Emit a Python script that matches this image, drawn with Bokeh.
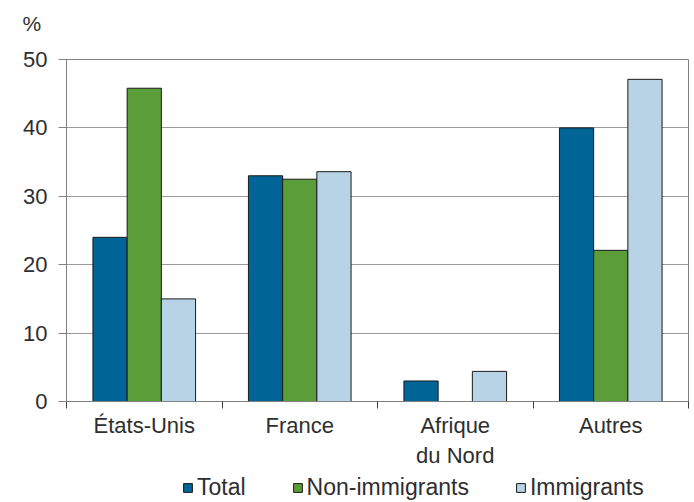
from bokeh.plotting import figure
from bokeh.layouts import column
from bokeh.models import (FixedTicker, Range1d, Legend, LegendItem, ColumnDataSource)
from bokeh.transform import dodge
from bokeh.embed import file_html
from bokeh.resources import INLINE

categories = ["États-Unis", "France", "Afrique\ndu Nord", "Autres"]
total = [24.0, 33.0, 3.0, 40.0]
non_immigrants = [45.8, 32.5, float("nan"), 22.1]
immigrants = [15.0, 33.6, 4.4, 47.1]
series_names = ["Total", "Non-immigrants", "Immigrants"]
series_keys = ["total", "non", "imm"]
colors = ["#006496", "#5b9e39", "#b8d2e6"]
y_ticks = [0, 10, 20, 30, 40, 50]
unit_label = "%"

FONT = "Liberation Sans"
TXT = "#2e2e2e"
GRID = "#9a9a9a"
EDGE = "#1a1a1a"

xc = [i + 0.5 for i in range(len(categories))]
src = ColumnDataSource(dict(x=xc, total=total, non=non_immigrants, imm=immigrants))

# ---- top strip holding the unit label ----
tp = figure(width=694, height=46, output_backend="svg", toolbar_location=None,
            x_axis_type=None, y_axis_type=None, x_range=Range1d(0, 1), y_range=Range1d(0, 1),
            min_border=0, outline_line_color=None)
tp.grid.visible = False
tp.title.text = unit_label
tp.title.align = "left"
tp.title.offset = -44
tp.title.text_font = FONT
tp.title.text_font_size = "21px"
tp.title.text_font_style = "normal"
tp.title.text_color = TXT
tp.title.standoff = 18

# ---- main chart ----
p = figure(width=694, height=424, output_backend="svg", toolbar_location=None,
           x_range=Range1d(0, len(categories)), y_range=Range1d(0, 50),
           min_border_left=66, min_border_right=6, min_border_top=13, min_border_bottom=67)
p.background_fill_color = "white"
p.border_fill_color = "white"
p.outline_line_color = "#808080"
p.outline_line_width = 1

bw = 0.22
for key, off, col in zip(series_keys, [-bw, 0.0, bw], colors):
    p.vbar(x=dodge("x", off, range=p.x_range), top=key, bottom=0, width=bw, source=src,
           fill_color=col, line_color=EDGE, line_width=1)

p.xgrid.visible = False
p.ygrid.grid_line_color = GRID
p.ygrid.grid_line_width = 1
p.ygrid.ticker = FixedTicker(ticks=y_ticks)

ya = p.yaxis[0]
ya.ticker = FixedTicker(ticks=y_ticks)
ya.axis_line_color = "#808080"
ya.major_tick_line_color = "#808080"
ya.major_tick_out = 8
ya.major_tick_in = 0
ya.minor_tick_line_color = None
ya.major_label_text_font = FONT
ya.major_label_text_font_size = "22px"
ya.major_label_text_color = TXT
ya.major_label_standoff = 11

xa = p.xaxis[0]
xa.ticker = FixedTicker(ticks=xc, minor_ticks=list(range(len(categories) + 1)))
xa.major_label_overrides = {x: c for x, c in zip(xc, categories)}
xa.axis_line_color = "#808080"
xa.major_tick_line_color = None
xa.major_tick_out = 0
xa.major_tick_in = 0
xa.minor_tick_line_color = "#404040"
xa.minor_tick_out = 7
xa.minor_tick_in = 0
xa.major_label_text_font = FONT
xa.major_label_text_font_size = "22px"
xa.major_label_text_color = TXT
xa.major_label_standoff = 4

# ---- legend strip below the chart (legend renderers kept out of view) ----
lg = figure(width=694, height=32, output_backend="svg", toolbar_location=None,
            x_axis_type=None, y_axis_type=None, x_range=Range1d(-40, -36),
            y_range=Range1d(200, 201), min_border=0, outline_line_color=None)
lg.grid.visible = False
lg.border_fill_color = "white"
lg.background_fill_color = "white"
items = []
for name, key, col in zip(series_names, series_keys, colors):
    r = lg.vbar(x="x", top=key, bottom=0, width=bw, source=src,
                fill_color=col, line_color=EDGE, line_width=1)
    items.append(LegendItem(label=name, renderers=[r]))
legend = Legend(items=items, orientation="horizontal", location=(116, 1),
                glyph_width=11, glyph_height=11, label_standoff=4, spacing=46,
                padding=0, margin=0, border_line_color=None, background_fill_alpha=0,
                label_text_font=FONT, label_text_font_size="23px", label_text_color=TXT,
                label_height=20)
lg.add_layout(legend, "center")

layout = column(tp, p, lg, spacing=0)
open("out.html", "w").write(file_html(layout, INLINE))
